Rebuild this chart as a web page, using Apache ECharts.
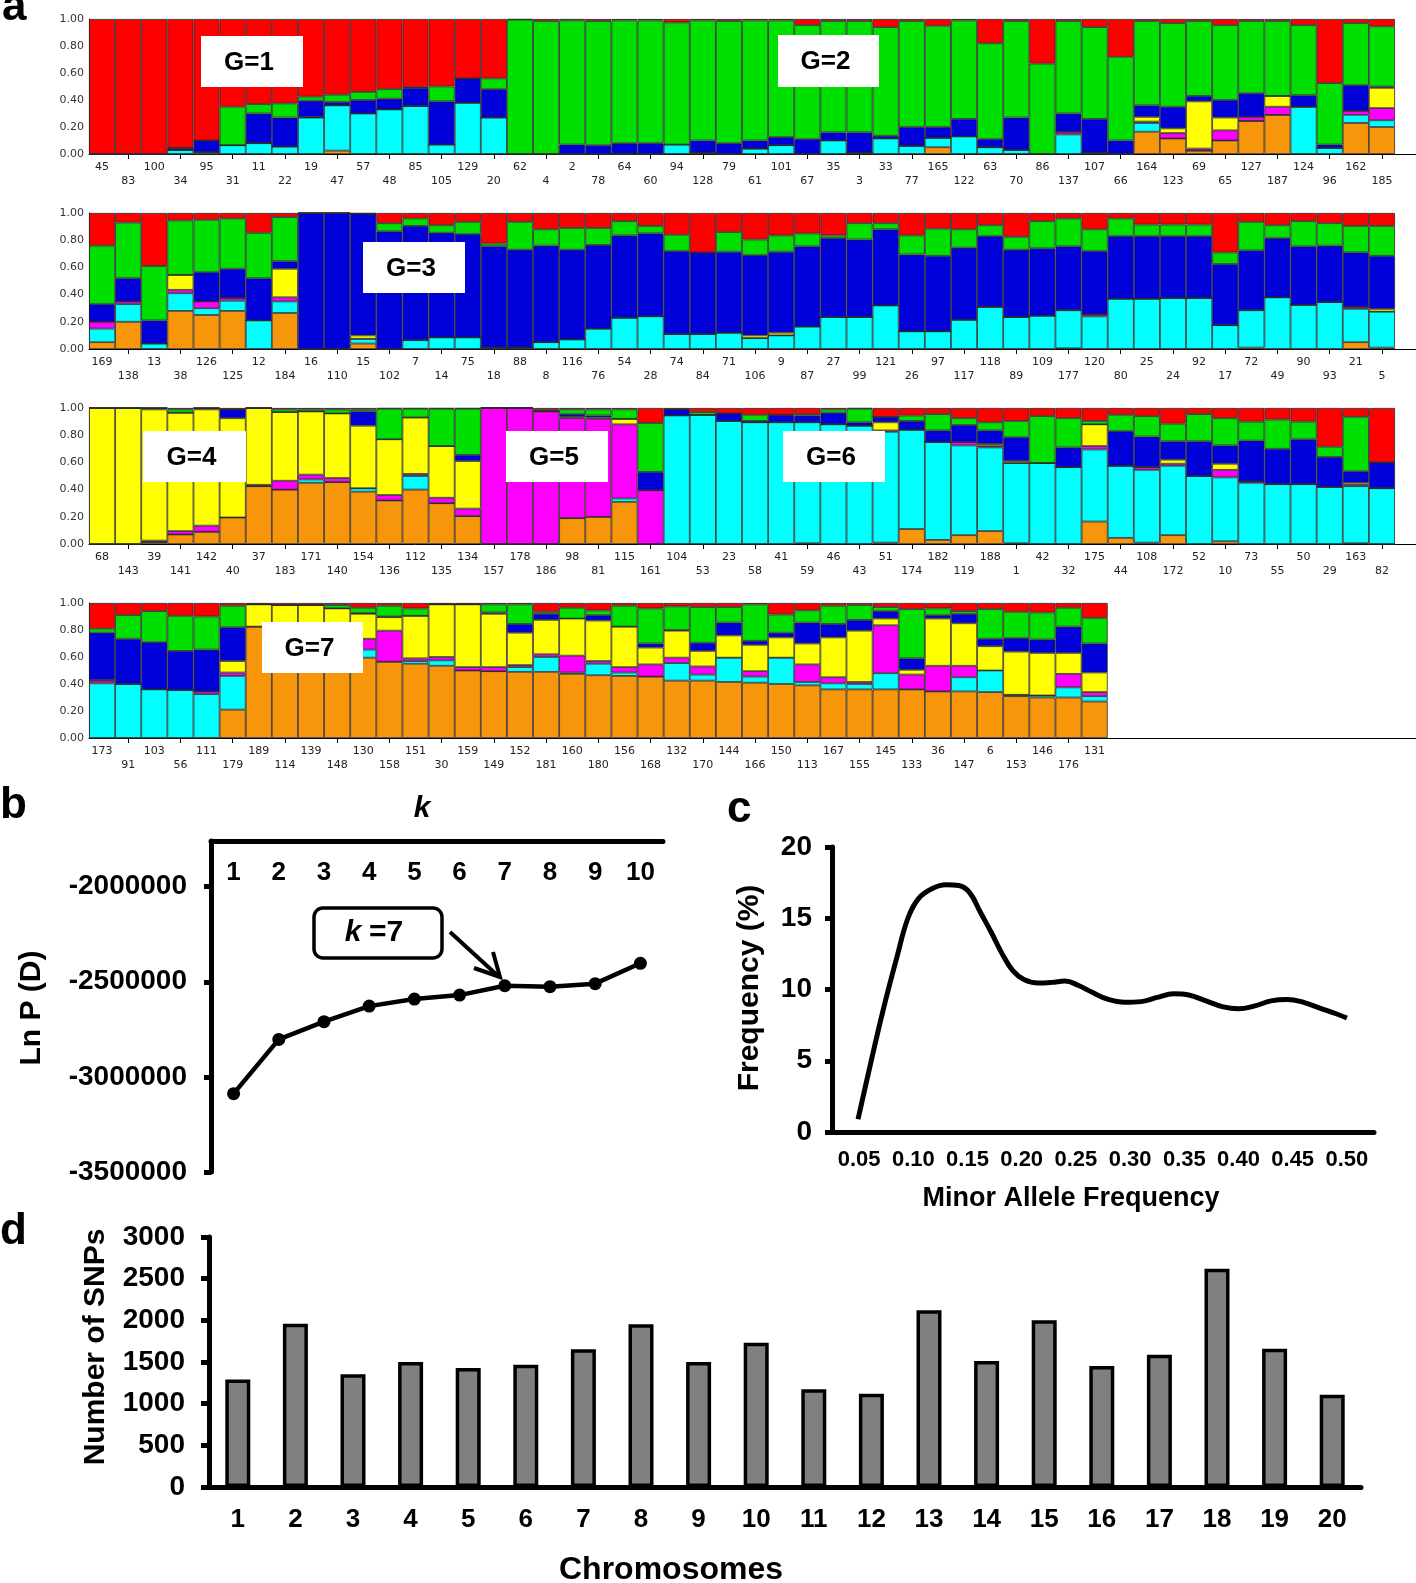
<!DOCTYPE html>
<html><head><meta charset="utf-8">
<script src="https://cdn.jsdelivr.net/npm/echarts@6/dist/echarts.min.js"></script>
<style>html,body{margin:0;padding:0;background:#fff}#c{width:1416px;height:1583px}</style>
</head><body><div id="c"></div>
<script>
// ---------- Panel a: STRUCTURE membership (order of each entry: orange, cyan, magenta, yellow, blue, green, red)
const clusterNames = ['orange','cyan','magenta','yellow','blue','green','red'];
const clusterColors = ['#f7960b','#00ffff','#ff00ff','#ffff00','#0000d8','#00e000','#ff0000'];

const row1Ids = ['45','83','100','34','95','31','11','22','19','47','57','48','85','105','129','20','62','4','2','78','64','60','94','128','79','61','101','67','35','3','33','77','165','122','63','70','86','137','107','66','164','123','69','65','127','187','124','96','162','185'];
const row1Q = [
[0,0,0,0,0,0,1],[0,0,0,0,0,0,1],[0,0,0,0,0,0,1],[0,.03,0,0,.015,0,.955],[0,.015,0,0,.085,0,.90],
[0,.065,0,0,0,.285,.65],[0,.08,0,0,.22,.07,.63],[0,.055,0,0,.215,.105,.625],[0,.27,0,.005,.12,.03,.575],[.025,.335,0,0,.025,.055,.56],
[0,.30,0,0,.10,.06,.54],[0,.33,0,0,.08,.07,.52],[0,.355,0,0,.135,.005,.505],[0,.07,0,0,.32,.11,.50],[0,.38,0,0,.18,0,.44],
[0,.27,0,0,.21,.08,.44],[0,0,0,0,0,.995,.005],[0,0,0,0,0,.985,.015],[0,0,0,0,.07,.92,.01],[0,0,0,0,.065,.92,.015],
[0,0,0,0,.08,.91,.01],[0,0,0,0,.08,.91,.01],[0,.07,0,0,0,.905,.025],[0,.01,0,0,.09,.89,.01],[0,0,0,0,.08,.905,.015],
[0,.04,0,0,.06,.89,.01],[0,.065,0,0,.06,.865,.01],[0,0,0,0,.11,.845,.045],[0,.10,0,0,.06,.825,.015],[0,.01,0,0,.15,.825,.015],
[0,.115,0,0,.02,.805,.06],[0,.06,0,0,.14,.785,.015],[.05,.07,0,0,.08,.75,.05],[0,.13,0,0,.13,.73,.01],[0,.05,0,0,.06,.71,.18],
[0,.03,0,0,.24,.715,.015],[0,0,0,0,0,.67,.33],[0,.145,.02,0,.135,.685,.015],[0,.01,0,0,.25,.68,.06],[0,0,0,0,.10,.62,.28],
[.165,.065,.01,.035,.085,.625,.015],[.115,0,.04,.035,.16,.62,.03],[.025,0,.015,.35,.04,.555,.015],[.10,0,.075,.095,.13,.555,.045],[.245,0,.03,0,.175,.535,.015],
[.29,0,.06,.08,0,.555,.015],[0,.35,0,0,.085,.52,.045],[0,.045,0,0,.025,.455,.475],[.23,.06,.03,0,.19,.46,.03],[.20,.05,.09,.15,.01,.445,.055]
];

const row2Ids = ['169','138','13','38','126','125','12','184','16','110','15','102','7','14','75','18','88','8','116','76','54','28','74','84','71','106','9','87','27','99','121','26','97','117','118','89','109','177','120','80','25','24','92','17','72','49','90','93','21','5'];
const row2Q = [
[.05,.10,.05,0,.13,.43,.24],[.20,.13,.02,0,.17,.41,.07],[0,.04,0,0,.17,.40,.39],[.28,.13,.025,.11,0,.40,.055],[.25,.05,.05,0,.215,.385,.05],
[.28,.075,.02,0,.215,.37,.04],[0,.21,0,0,.31,.335,.145],[.265,.085,.03,.21,.055,.325,.03],[0,0,0,0,1,0,0],[0,0,0,0,1,0,0],
[.04,.035,0,.025,.895,0,.005],[0,0,0,0,.865,.06,.075],[0,.065,0,0,.84,.055,.04],[0,.085,0,0,.77,.055,.09],[0,.085,0,0,.76,.09,.065],
[0,.01,0,0,.745,.02,.225],[0,.01,0,0,.72,.205,.065],[0,.05,0,0,.71,.12,.12],[0,.07,0,0,.66,.16,.11],[0,.15,0,0,.615,.125,.11],
[0,.23,0,0,.605,.105,.06],[0,.24,0,0,.61,.055,.095],[0,.11,0,0,.61,.12,.16],[0,.11,0,0,.60,0,.29],[0,.12,0,0,.595,.145,.14],
[0,.08,0,.02,.59,.115,.195],[0,.10,0,.02,.595,.12,.165],[0,.165,0,0,.59,.095,.15],[0,.235,0,0,.58,.02,.165],[0,.235,0,0,.57,.12,.075],
[0,.32,0,0,.56,.045,.075],[0,.13,0,0,.565,.14,.165],[0,.13,0,0,.555,.20,.115],[0,.215,0,0,.53,.135,.12],[0,.31,0,0,.52,.08,.09],
[0,.235,0,0,.495,.095,.175],[0,.245,0,0,.495,.20,.06],[.005,.28,0,0,.47,.205,.04],[0,.24,.015,0,.465,.16,.12],[0,.37,0,0,.46,.13,.04],
[0,.37,0,0,.46,.085,.085],[0,.375,0,0,.455,.085,.085],[0,.375,0,0,.455,.085,.085],[0,.175,0,0,.45,.085,.29],[.01,.275,0,0,.44,.21,.065],
[0,.38,0,0,.435,.095,.09],[0,.325,0,0,.43,.185,.06],[0,.345,0,0,.415,.165,.075],[.05,.245,.015,0,.40,.195,.095],[.01,.265,0,.02,.39,.22,.095]
];

const row3Ids = ['68','143','39','141','142','40','37','183','171','140','154','136','112','135','134','157','178','186','98','81','115','161','104','53','23','58','41','59','46','43','51','174','182','119','188','1','42','32','175','44','108','172','52','10','73','55','50','29','163','82'];
const row3Q = [
[0,0,0,1,0,0,0],[0,0,0,1,0,0,0],[.015,0,.01,.965,.01,0,0],[.07,0,.025,.87,0,.025,.01],[.09,0,.045,.855,.01,0,0],
[.195,0,0,.73,.065,0,.01],[.425,0,.01,.565,0,0,0],[.40,0,.065,.505,0,.02,.01],[.45,.025,.035,.465,0,.015,.01],[.455,0,.03,.475,0,.03,.01],
[.385,.025,0,.46,.105,.015,.01],[.32,0,.04,.41,0,.225,.005],[.40,.10,.015,.415,0,.065,.005],[.30,0,.04,.38,0,.275,.005],[.205,0,.055,.35,.045,.34,.005],
[0,0,1,0,0,0,0],[0,0,1,0,0,0,0],[0,0,.975,0,0,.01,.015],[.19,0,.735,.01,.02,.035,.01],[.20,0,.72,.01,.015,.045,.01],
[.31,.025,.545,.04,0,.07,.01],[0,0,.395,0,.135,.36,.11],[0,.945,0,0,.045,0,.01],[0,.95,0,0,0,.02,.03],[0,.905,0,0,.055,0,.04],
[0,.895,0,0,.01,.045,.05],[0,.895,0,0,.055,0,.05],[.005,.89,0,0,.05,.01,.045],[0,.88,0,0,.085,.025,.01],[0,.87,0,0,.025,.10,.005],
[.01,.815,.01,.06,.04,0,.065],[.11,.73,0,0,.065,.04,.055],[.03,.72,0,0,.085,.12,.045],[.065,.66,.025,0,.125,.05,.075],[.095,.615,.01,.015,.10,.06,.105],
[.005,.59,0,.015,.175,.12,.095],[0,.595,0,0,0,.345,.06],[0,.565,0,0,.145,.215,.075],[.165,.53,.025,.16,0,.025,.095],[.045,.53,0,0,.255,.12,.05],
[.01,.535,.02,0,.225,.15,.06],[.065,.51,.015,.03,.135,.13,.115],[0,.50,0,0,.255,.20,.045],[.02,.47,.055,.045,.135,.20,.075],[0,.45,.01,0,.30,.14,.10],
[0,.44,0,0,.26,.215,.085],[0,.44,0,0,.33,.13,.10],[0,.42,0,0,.22,.075,.285],[.005,.42,.01,.015,.085,.40,.065],[0,.41,0,0,.19,0,.40]
];

const row4Ids = ['173','91','103','56','111','179','189','114','139','148','130','158','151','30','159','149','152','181','160','180','156','168','132','170','144','166','150','113','167','155','145','133','36','147','6','153','146','176','131'];
const row4Q = [
[0,.405,.02,.005,.35,.03,.19],[0,.40,0,0,.335,.175,.09],[0,.36,0,0,.35,.23,.06],[0,.355,0,0,.29,.26,.095],[0,.325,.02,0,.31,.245,.10],
[.21,.25,.025,.085,.25,.16,.02],[.825,0,0,.165,0,0,.01],[.80,0,0,.185,0,0,.015],[.76,0,0,.225,0,0,.015],[.70,0,.04,.22,0,.025,.015],
[.595,.06,.08,.185,.005,.04,.035],[.565,0,.23,.10,.005,.08,.02],[.55,.02,.02,.315,0,.055,.04],[.535,.04,.025,.39,0,0,.01],[.50,0,.025,.465,0,0,.01],
[.495,0,.03,.395,.01,.06,.01],[.49,.035,.015,.24,.065,.145,.01],[.49,.11,.02,.255,.045,.015,.065],[.475,.01,.125,.275,0,.08,.035],[.465,.085,.02,.30,.04,.035,.055],
[.46,.025,.04,.30,0,.155,.02],[.455,0,.09,.125,.03,.26,.04],[.425,.13,.04,.20,.005,.175,.025],[.425,.045,.06,.115,.06,.265,.03],[.415,.18,0,.165,.095,.115,.03],
[.41,.045,.04,.195,.03,.27,.01],[.40,.195,0,.15,.035,.135,.085],[.39,.025,.13,.155,.155,.09,.055],[.36,.045,.045,.295,.10,.135,.02],[.36,.04,.015,.38,.08,.11,.015],
[.36,.12,.355,.05,.055,.03,.03],[.36,0,.11,.035,.085,.365,.045],[.345,0,.19,.35,.025,.05,.04],[.345,.105,.085,.315,.07,.02,.06],[.34,.16,0,.18,.055,.22,.045],
[.31,.01,0,.32,.10,.195,.065],[.30,.015,0,.315,.10,.20,.07],[.30,.075,.10,.155,.195,.14,.035],[.27,.04,.03,.145,.215,.19,.11]
];

// ---------- Panel b
const kValues = ['1','2','3','4','5','6','7','8','9','10'];
const lnPD = [-3088000,-2803000,-2710000,-2628000,-2591000,-2570000,-2521000,-2526000,-2510000,-2403000];
const lnPTicks = [-3500000,-3000000,-2500000,-2000000];

// ---------- Panel c
const mafLabels = ['0.05','0.10','0.15','0.20','0.25','0.30','0.35','0.40','0.45','0.50'];
const mafCurve = [[0.049,0.9],[0.06,4.6],[0.072,8.5],[0.085,12.3],[0.095,15.0],[0.105,16.4],[0.118,17.1],[0.13,17.35],[0.142,17.3],[0.152,16.8],[0.162,15.4],[0.172,14.0],[0.182,12.5],[0.192,11.3],[0.202,10.7],[0.215,10.45],[0.228,10.5],[0.24,10.6],[0.252,10.3],[0.265,9.8],[0.28,9.3],[0.295,9.1],[0.31,9.15],[0.325,9.45],[0.34,9.7],[0.355,9.6],[0.37,9.2],[0.385,8.8],[0.4,8.65],[0.415,8.85],[0.43,9.2],[0.445,9.3],[0.46,9.1],[0.475,8.7],[0.49,8.3],[0.5,8.0]];

// ---------- Panel d
const chromosomes = ['1','2','3','4','5','6','7','8','9','10','11','12','13','14','15','16','17','18','19','20'];
const snpCounts = [1290,1960,1352,1500,1428,1468,1652,1952,1500,1732,1172,1120,2120,1512,2000,1452,1588,2620,1660,1108];

// ================= build =================
const FONT = "'Liberation Sans', Arial, Helvetica, sans-serif";
const barW = 1306 / 50;
const rows = [
  {ids: row1Ids, q: row1Q, top: 19, height: 135},
  {ids: row2Ids, q: row2Q, top: 213, height: 136},
  {ids: row3Ids, q: row3Q, top: 408, height: 136},
  {ids: row4Ids, q: row4Q, top: 603, height: 135}
];
const grid = [], xAxis = [], yAxis = [], series = [], graphic = [];

rows.forEach((r, ri) => {
  const w = r.ids.length * barW;
  grid.push({left: 89, top: r.top, width: w, height: r.height});
  xAxis.push({
    type: 'category', gridIndex: ri, data: r.ids,
    axisLine: {lineStyle: {color: '#000', width: 1}},
    axisTick: {show: true, alignWithLabel: true, length: 5, interval: (i) => i % 2 === 1, lineStyle: {color: '#000'}},
    axisLabel: {interval: 0, margin: 6, fontSize: 11, lineHeight: 14, color: '#222', fontFamily: 'DejaVu Sans',
      formatter: (v, i) => (i % 2 ? '\n' + v : v)}
  });
  yAxis.push({
    type: 'value', gridIndex: ri, min: 0, max: 1, interval: 0.2,
    splitLine: {show: false}, axisTick: {show: false},
    axisLine: {show: true, lineStyle: {color: '#000', width: 1}},
    axisLabel: {formatter: (v) => v.toFixed(2), fontSize: 11, color: '#333', margin: 5, fontFamily: 'DejaVu Sans'}
  });
  clusterNames.forEach((cn, ci) => {
    series.push({
      type: 'bar', name: cn, xAxisIndex: ri, yAxisIndex: ri, stack: 'row' + ri,
      barCategoryGap: '0%', barGap: '0%',
      data: r.q.map(v => v[ci]),
      itemStyle: {color: clusterColors[ci], borderColor: '#2a2a2a', borderWidth: 0.8},
      silent: true
    });
  });
  // baseline extension to page edge
  const right = 89 + w;
  graphic.push({type: 'line', shape: {x1: right, y1: r.top + r.height + 0.5, x2: 1416, y2: r.top + r.height + 0.5}, style: {stroke: '#000', lineWidth: 1}, silent: true});
});

// G labels
const gBoxes = [
  ['G=1', 201, 36, 102, 51], ['G=2', 778, 35, 101, 52], ['G=3', 363, 242, 102, 51],
  ['G=4', 143, 431, 103, 51], ['G=5', 506, 431, 102, 51], ['G=6', 783, 431, 102, 51], ['G=7', 262, 622, 101, 51]
];
gBoxes.forEach(g => {
  graphic.push({type: 'rect', shape: {x: g[1], y: g[2], width: g[3], height: g[4]}, style: {fill: '#fff'}, z: 100});
  graphic.push({type: 'text', x: g[1] + g[3] / 2 - 3, y: g[2] + g[4] / 2 + 1, z: 101,
    style: {text: g[0], font: 'bold 26px ' + FONT, fill: '#000', align: 'center', verticalAlign: 'middle', textAlign: 'center', textVerticalAlign: 'middle'}});
});

// ---------- panel b
const gb = grid.length;
grid.push({left: 211, top: 841, width: 452, height: 331});
xAxis.push({
  type: 'category', gridIndex: gb, position: 'top', data: kValues, boundaryGap: true,
  axisLine: {lineStyle: {color: '#000', width: 5}},
  axisTick: {inside: true, length: 9, lineStyle: {color: '#000', width: 5}},
  axisLabel: {interval: 0, inside: true, margin: 19, fontSize: 26, fontWeight: 'bold', color: '#000', fontFamily: FONT}
});
yAxis.push({
  type: 'value', gridIndex: gb, min: -3500000, max: -1760000, interval: 500000,
  splitLine: {show: false},
  axisLine: {show: true, lineStyle: {color: '#000', width: 5}},
  axisTick: {show: true, length: 7, lineStyle: {color: '#000', width: 5}, customValues: lnPTicks},
  axisLabel: {customValues: lnPTicks, formatter: (v) => String(v), fontSize: 28, fontWeight: 'bold', color: '#000', margin: 24, fontFamily: FONT}
});
series.push({type: 'line', xAxisIndex: gb, yAxisIndex: gb, data: lnPD, symbol: 'circle', symbolSize: 13,
  lineStyle: {color: '#000', width: 4.5}, itemStyle: {color: '#000'}, silent: true});

// ---------- panel c
const gc = grid.length;
grid.push({left: 832, top: 847, width: 542, height: 285});
xAxis.push({
  type: 'category', gridIndex: gc, data: mafLabels, boundaryGap: true,
  axisLine: {lineStyle: {color: '#000', width: 5}},
  axisTick: {interval: 0, length: 7, lineStyle: {color: '#000', width: 5}},
  axisLabel: {interval: 0, margin: 17, fontSize: 22, fontWeight: 'bold', color: '#000', fontFamily: FONT}
});
const gcValX = xAxis.length;
xAxis.push({type: 'value', gridIndex: gc, min: 0.025, max: 0.525, show: false});
yAxis.push({
  type: 'value', gridIndex: gc, min: 0, max: 20, interval: 5,
  splitLine: {show: false},
  axisLine: {show: true, lineStyle: {color: '#000', width: 5}},
  axisTick: {show: true, length: 7, lineStyle: {color: '#000', width: 5}},
  axisLabel: {fontSize: 28, fontWeight: 'bold', color: '#000', margin: 20, fontFamily: FONT}
});
series.push({type: 'line', xAxisIndex: gcValX, yAxisIndex: gc, data: mafCurve, smooth: 0.4, symbol: 'none',
  lineStyle: {color: '#000', width: 5}, silent: true});

// ---------- panel d
const gd = grid.length;
grid.push({left: 209, top: 1237, width: 1152, height: 250});
const gdX = xAxis.length;
xAxis.push({
  type: 'category', gridIndex: gd, data: chromosomes,
  axisLine: {lineStyle: {color: '#000', width: 5}},
  axisTick: {interval: 0, alignWithLabel: true, length: 8, lineStyle: {color: '#000', width: 5}},
  axisLabel: {interval: 0, margin: 20, fontSize: 26, fontWeight: 'bold', color: '#000', fontFamily: FONT}
});
const gdY = yAxis.length;
yAxis.push({
  type: 'value', gridIndex: gd, min: 0, max: 3000, interval: 500,
  splitLine: {show: false},
  axisLine: {show: true, lineStyle: {color: '#000', width: 5}},
  axisTick: {show: true, length: 8, lineStyle: {color: '#000', width: 5}},
  axisLabel: {formatter: (v) => String(v), fontSize: 28, fontWeight: 'bold', color: '#000', margin: 24, fontFamily: FONT}
});
series.push({type: 'bar', xAxisIndex: gdX, yAxisIndex: gdY, data: snpCounts, barWidth: 25,
  itemStyle: {color: '#808080', borderColor: '#000', borderWidth: 3.5}, silent: true});

// ---------- texts
function txt(t, x, y, font, opts) {
  return Object.assign({type: 'text', x: x, y: y, z: 50, silent: true,
    style: {text: t, font: font, fill: '#000', align: 'center', verticalAlign: 'middle', textAlign: 'center', textVerticalAlign: 'middle'}}, opts || {});
}
function letter(t, x, y) {
  return {type: 'text', x: x, y: y, z: 50, silent: true,
    style: {text: t, font: 'bold 44px ' + FONT, fill: '#000', align: 'left', verticalAlign: 'middle', textAlign: 'left', textVerticalAlign: 'middle'}};
}
graphic.push(letter('a', 2, 8));
graphic.push(letter('b', 0, 806));
graphic.push(letter('c', 727, 810));
graphic.push(letter('d', 0, 1232));

graphic.push(txt('k', 422, 809, 'italic bold 30px ' + FONT));
graphic.push(txt('Ln P (D)', 32, 1008, 'bold 30px ' + FONT, {rotation: Math.PI / 2}));
graphic.push(txt('Frequency (%)', 750, 988, 'bold 30px ' + FONT, {rotation: Math.PI / 2}));
graphic.push(txt('Minor Allele Frequency', 1071, 1199, 'bold 27px ' + FONT));
graphic.push(txt('Number of SNPs', 96, 1347, 'bold 30px ' + FONT, {rotation: Math.PI / 2}));
graphic.push(txt('Chromosomes', 671, 1570, 'bold 32px ' + FONT));

// k = 7 annotation
graphic.push({type: 'rect', shape: {x: 314, y: 908, width: 128, height: 50, r: 9}, style: {fill: '#fff', stroke: '#000', lineWidth: 3.5}, z: 60});
graphic.push({type: 'text', x: 353, y: 933, z: 61, style: {text: 'k', font: 'italic bold 30px ' + FONT, fill: '#000', align: 'center', verticalAlign: 'middle', textAlign: 'center', textVerticalAlign: 'middle'}});
graphic.push({type: 'text', x: 369, y: 933, z: 61, style: {text: '=7', font: 'bold 30px ' + FONT, fill: '#000', align: 'left', verticalAlign: 'middle', textAlign: 'left', textVerticalAlign: 'middle'}});
graphic.push({type: 'line', shape: {x1: 450, y1: 932, x2: 497, y2: 975}, style: {stroke: '#000', lineWidth: 4}, z: 60});
graphic.push({type: 'polyline', shape: {points: [[474, 968], [500, 977], [493, 952]]}, style: {stroke: '#000', lineWidth: 4, fill: null}, z: 60});

const chart = echarts.init(document.getElementById('c'), null, {renderer: 'canvas'});
chart.setOption({
  backgroundColor: '#fff',
  animation: false,
  grid: grid, xAxis: xAxis, yAxis: yAxis, series: series, graphic: graphic
});
</script></body></html>
